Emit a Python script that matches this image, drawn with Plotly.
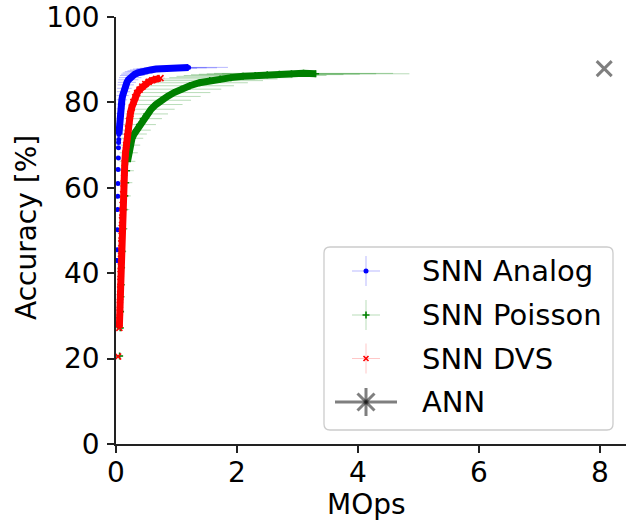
import plotly.graph_objects as go

# ---------------- data ----------------
# SNN Analog (blue)
ANALOG_LOW_MOPS = [0.020, 0.022, 0.025, 0.027, 0.030, 0.032, 0.035, 0.038, 0.040, 0.043, 0.046]
ANALOG_LOW_ACC = [43.0, 45.5, 50.2, 54.9, 58.0, 61.0, 64.3, 67.0, 69.4, 70.6, 71.3]
ANALOG_LOW_ERR = [0.010, 0.011, 0.013, 0.014, 0.016, 0.017, 0.019, 0.021, 0.022, 0.024, 0.026]
ANALOG_MOPS = [0.048, 0.052, 0.057, 0.063, 0.070, 0.078, 0.087, 0.097, 0.110, 0.125, 0.140, 0.160,
               0.180, 0.205, 0.235, 0.270, 0.310, 0.360, 0.420, 0.490, 0.570, 0.660, 0.760, 0.870,
               0.980, 1.090, 1.200]
ANALOG_ACC = [72.5, 73.8, 75.0, 76.2, 77.4, 78.5, 79.6, 80.6, 81.6, 82.5, 83.3, 84.1,
              84.7, 85.3, 85.8, 86.3, 86.6, 86.9, 87.2, 87.4, 87.6, 87.8, 87.9, 88.0,
              88.1, 88.1, 88.2]
ANALOG_ERR = [0.040, 0.045, 0.050, 0.056, 0.063, 0.070, 0.078, 0.087, 0.099, 0.110, 0.120, 0.135,
              0.150, 0.165, 0.185, 0.205, 0.225, 0.250, 0.275, 0.300, 0.340, 0.380, 0.420, 0.470,
              0.520, 0.580, 0.650]

# SNN Poisson (green)
POISSON_LOW_MOPS = [0.060, 0.070, 0.075, 0.080, 0.085, 0.090, 0.100, 0.115, 0.130, 0.145, 0.160, 0.175]
POISSON_LOW_ACC = [20.6, 27.2, 31.0, 34.5, 37.3, 41.3, 45.1, 50.4, 54.9, 58.1, 61.2, 64.0]
POISSON_LOW_ERR = [0.040, 0.050, 0.052, 0.056, 0.060, 0.063, 0.070, 0.080, 0.090, 0.100, 0.110, 0.120]
POISSON_MOPS = [0.19, 0.21, 0.235, 0.265, 0.30, 0.34, 0.39, 0.45, 0.51, 0.58, 0.66, 0.75, 0.85,
                0.96, 1.08, 1.22, 1.38, 1.55, 1.72, 1.90, 2.10, 2.30, 2.50, 2.70, 2.90, 3.10, 3.30]
POISSON_ACC = [66.2, 68.2, 70.0, 71.6, 72.6, 73.5, 74.8, 76.2, 77.3, 78.4, 79.5, 80.5, 81.4,
               82.3, 83.1, 83.9, 84.6, 85.1, 85.5, 85.8, 86.1, 86.3, 86.5, 86.6, 86.7, 86.8, 86.7]
POISSON_ERR = [0.13, 0.15, 0.165, 0.185, 0.21, 0.235, 0.27, 0.31, 0.35, 0.39, 0.44, 0.49, 0.55,
               0.60, 0.66, 0.73, 0.80, 0.88, 0.95, 1.02, 1.10, 1.18, 1.26, 1.33, 1.40, 1.48, 1.55]

# SNN DVS (red)
DVS_START_MOPS = [0.035]
DVS_START_ACC = [20.5]
DVS_START_ERR = [0.004]
DVS_MOPS = [0.055, 0.058, 0.061, 0.064, 0.067, 0.070, 0.073, 0.076, 0.079, 0.082, 0.085,
            0.088, 0.092, 0.096, 0.100, 0.105, 0.110, 0.118, 0.126, 0.135, 0.145, 0.156,
            0.168, 0.182, 0.198, 0.216, 0.237, 0.260, 0.287, 0.317, 0.350, 0.390, 0.435,
            0.485, 0.540, 0.600, 0.665, 0.735]
DVS_ACC = [27.2, 29.0, 30.8, 32.6, 34.4, 36.2, 38.0, 39.8, 41.6, 43.4, 45.2,
           47.0, 48.8, 50.6, 52.4, 54.2, 56.0, 58.5, 61.0, 63.5, 65.8, 68.0,
           70.0, 72.0, 73.9, 75.7, 77.3, 78.8, 80.1, 81.2, 82.2, 83.0, 83.7,
           84.3, 84.8, 85.2, 85.5, 85.7]
DVS_ERR = [0.006, 0.006, 0.006, 0.007, 0.007, 0.007, 0.008, 0.008, 0.008, 0.008, 0.009,
           0.009, 0.009, 0.010, 0.010, 0.011, 0.011, 0.012, 0.013, 0.014, 0.015, 0.016,
           0.017, 0.018, 0.020, 0.022, 0.024, 0.026, 0.029, 0.032, 0.035, 0.039, 0.044,
           0.049, 0.054, 0.060, 0.067, 0.074]

# ANN
ANN_MOPS = [8.07]
ANN_ACC = [87.9]

LEGEND_LABELS = ["SNN Analog", "SNN Poisson", "SNN DVS", "ANN"]
X_TICKS = [0, 2, 4, 6, 8]
Y_TICKS = [0, 20, 40, 60, 80, 100]

# ---------------- style ----------------
FONT = "DejaVu Sans"
FS = 28
FS_LEG = 29
W, H = 626, 520
ML, MR, MT, MB = 116, 0, 17, 76
X_MAX = 8.43

BLUE, GREEN, RED = "#0000ff", "#008000", "#ff0000"
BLUE_F, GREEN_F, RED_F = "rgba(0,0,255,0.28)", "rgba(0,128,0,0.28)", "rgba(255,0,0,0.22)"
GRAY = "rgba(0,0,0,0.5)"

fig = go.Figure()


def marker_style(symbol, size, color):
    mk = dict(symbol=symbol, size=size, color=color)
    if symbol.endswith("open"):
        mk["line"] = dict(color=color, width=1.6)
    return mk


def add_points(xs, ys, es, color, faint, symbol, size):
    fig.add_trace(go.Scatter(
        x=xs, y=ys, mode="markers", marker=marker_style(symbol, size, color), showlegend=False,
        error_x=dict(type="data", array=es, symmetric=True, color=faint, thickness=1, width=0),
    ))


def add_band(xs, ys, color, band):
    # dense run of overlapping markers in the original
    fig.add_trace(go.Scatter(x=xs, y=ys, mode="lines", line=dict(color=color, width=band),
                             hoverinfo="skip", showlegend=False))


# SNN Analog
add_band(ANALOG_MOPS, ANALOG_ACC, BLUE, 7)
add_points(ANALOG_LOW_MOPS, ANALOG_LOW_ACC, ANALOG_LOW_ERR, BLUE, BLUE_F, "circle", 5)
add_points(ANALOG_MOPS, ANALOG_ACC, ANALOG_ERR, BLUE, BLUE_F, "circle", 5)
# SNN Poisson
add_band(POISSON_MOPS, POISSON_ACC, GREEN, 7)
add_points(POISSON_LOW_MOPS, POISSON_LOW_ACC, POISSON_LOW_ERR, GREEN, GREEN_F, "cross-thin-open", 5)
add_points(POISSON_MOPS, POISSON_ACC, POISSON_ERR, GREEN, GREEN_F, "cross-thin-open", 5)
# SNN DVS
add_band(DVS_MOPS, DVS_ACC, RED, 7)
add_points(DVS_START_MOPS, DVS_START_ACC, DVS_START_ERR, RED, RED_F, "x-thin-open", 6)
add_points(DVS_MOPS, DVS_ACC, DVS_ERR, RED, RED_F, "x-thin-open", 6)
# ANN
fig.add_trace(go.Scatter(x=ANN_MOPS, y=ANN_ACC, mode="markers", showlegend=False,
                         marker=dict(symbol="x-thin-open", size=15,
                                     line=dict(color=GRAY, width=3), color=GRAY)))

# ---------------- hand-made legend (pixel coordinates on an overlay axis) ----------------
PX0, PX1 = ML, W - MR
PY_BOT, PY_TOP = H - MB, MT
BOX = dict(x0=324, x1=613, y0=247, y1=430, r=6)
HANDLE_X = 366
TEXT_X = 420
ROWS = [271, 315, 358.5, 402]

b = BOX
path = (f"M {b['x0']+b['r']},{b['y0']} L {b['x1']-b['r']},{b['y0']} "
        f"Q {b['x1']},{b['y0']} {b['x1']},{b['y0']+b['r']} "
        f"L {b['x1']},{b['y1']-b['r']} Q {b['x1']},{b['y1']} {b['x1']-b['r']},{b['y1']} "
        f"L {b['x0']+b['r']},{b['y1']} Q {b['x0']},{b['y1']} {b['x0']},{b['y1']-b['r']} "
        f"L {b['x0']},{b['y0']+b['r']} Q {b['x0']},{b['y0']} {b['x0']+b['r']},{b['y0']} Z")
fig.add_shape(type="path", path=path, xref="x2", yref="y2", layer="below",
              line=dict(color="#cccccc", width=1.3), fillcolor="white")

leg_specs = [(BLUE, BLUE_F, "circle", 5), (GREEN, GREEN_F, "cross-thin-open", 5),
             (RED, RED_F, "x-thin-open", 5)]
for (col, fcol, sym, sz), yy in zip(leg_specs, ROWS[:3]):
    fig.add_trace(go.Scatter(
        x=[HANDLE_X], y=[yy], xaxis="x2", yaxis="y2", mode="markers",
        marker=marker_style(sym, sz, col), showlegend=False, hoverinfo="skip",
        error_x=dict(type="constant", value=14, color=fcol, thickness=1, width=0),
        error_y=dict(type="constant", value=15, color=fcol, thickness=1, width=0)))

fig.add_trace(go.Scatter(x=[335, 397], y=[ROWS[3], ROWS[3]], xaxis="x2", yaxis="y2", mode="lines",
                         line=dict(color=GRAY, width=3), showlegend=False, hoverinfo="skip"))
fig.add_trace(go.Scatter(
    x=[HANDLE_X], y=[ROWS[3]], xaxis="x2", yaxis="y2", mode="markers", showlegend=False,
    hoverinfo="skip",
    marker=dict(symbol="x-thin-open", size=17, color=GRAY, line=dict(color=GRAY, width=3)),
    error_y=dict(type="constant", value=14, color=GRAY, thickness=3, width=0)))

for lab, yy in zip(LEGEND_LABELS, ROWS):
    fig.add_annotation(x=TEXT_X, y=yy, xref="x2", yref="y2", text=lab, showarrow=False,
                       xanchor="left", yanchor="middle",
                       font=dict(family=FONT, size=FS_LEG, color="black"))

# axis titles
fig.add_annotation(text="MOps", x=(366 - ML) / (W - ML - MR), y=-(504 - PY_BOT) / (PY_BOT - PY_TOP),
                   xref="paper", yref="paper", showarrow=False, xanchor="center", yanchor="middle",
                   font=dict(family=FONT, size=FS, color="black"))
fig.add_annotation(text="Accuracy [%]", x=(26 - ML) / (W - ML - MR), y=(PY_BOT - 228) / (PY_BOT - PY_TOP),
                   xref="paper", yref="paper", showarrow=False, textangle=-90,
                   xanchor="center", yanchor="middle",
                   font=dict(family=FONT, size=FS, color="black"))

axis_common = dict(showgrid=False, zeroline=False, showline=True, linecolor="#222", linewidth=1.5,
                   ticks="outside", ticklen=7, tickwidth=1.5, tickcolor="#222",
                   tickfont=dict(family=FONT, size=FS, color="black"), automargin=False)

fig.update_layout(
    width=W, height=H,
    margin=dict(l=ML, r=MR, t=MT, b=MB, pad=0),
    paper_bgcolor="white", plot_bgcolor="white",
    showlegend=False,
    xaxis=dict(range=[0, X_MAX], tickvals=X_TICKS, ticklabelstandoff=-4, **axis_common),
    yaxis=dict(range=[0, 100], tickvals=Y_TICKS, ticklabelstandoff=2, **axis_common),
    xaxis2=dict(range=[PX0, PX1], overlaying="x", visible=False, anchor="y2"),
    yaxis2=dict(range=[PY_BOT, PY_TOP], overlaying="y", visible=False, anchor="x2"),
    font=dict(family=FONT),
)

fig.write_html("out.html", config={"displayModeBar": False},
               post_script="document.body.style.margin='0';document.body.style.padding='0';")
